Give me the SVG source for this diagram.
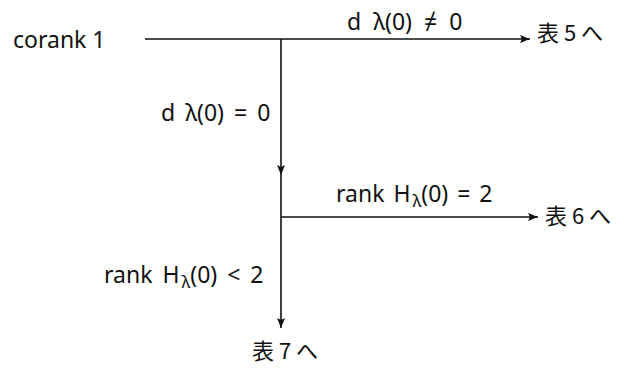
<svg xmlns="http://www.w3.org/2000/svg" width="621" height="370" viewBox="0 0 621 370">
<style>
.t{font-family:"Noto Sans","Open Sans","Noto Sans CJK JP",sans-serif;font-size:23px;fill:#111}
.s{font-size:17px}
.j{font-family:"Noto Sans CJK JP","Noto Sans",sans-serif;font-size:22px;fill:#111}
.c{stroke:#111;stroke-width:1.6;fill:none}
</style>
<defs>
<marker id="ah" viewBox="0 0 10 8" refX="10" refY="4" markerWidth="10" markerHeight="8" markerUnits="userSpaceOnUse" orient="auto">
<path d="M0,0 L10,4 L0,8 L2,4 Z" fill="#111"/>
</marker>
</defs>
<rect width="621" height="370" fill="#fff"/>
<g id="connectors">
<line class="c" x1="145" y1="39" x2="530" y2="39" marker-end="url(#ah)"/>
<line class="c" x1="281" y1="39" x2="281" y2="175" marker-end="url(#ah)"/>
<line class="c" x1="281" y1="175" x2="281" y2="328" marker-end="url(#ah)"/>
<line class="c" x1="281" y1="217" x2="538" y2="217" marker-end="url(#ah)"/>
</g>
<g id="labels">
<text class="t" x="347" y="30" word-spacing="6">d λ(0) ≠ 0</text>
<text class="t" x="161" y="121" word-spacing="4">d λ(0) = 0</text>
<text class="t" x="336" y="202" word-spacing="3">rank  H<tspan class="s" dx="2" dy="5">λ</tspan><tspan dy="-5">(0) = 2</tspan></text>
<text class="t" x="104" y="283" word-spacing="4">rank  H<tspan class="s" dx="2" dy="5">λ</tspan><tspan dy="-5">(0) &lt; 2</tspan></text>
</g>
<g id="node-corank"><text class="t" x="13" y="48">corank 1</text></g>
<g id="node-t5"><text class="j" x="537" y="41">表 5 へ</text></g>
<g id="node-t6"><text class="j" x="545" y="224">表 6 へ</text></g>
<g id="node-t7"><text class="j" x="252" y="359">表 7 へ</text></g>
</svg>
